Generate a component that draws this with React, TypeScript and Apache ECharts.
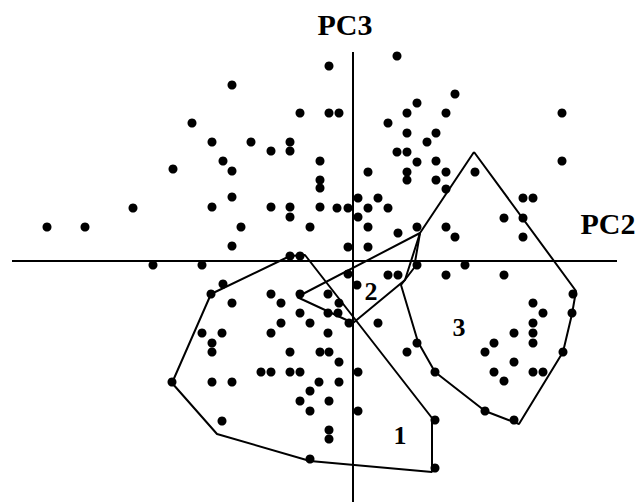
import React, { useEffect, useRef } from "react";
import * as echarts from "echarts";

// PC2 (x) and PC3 (y) scores, in chart units
const pc2Scores: number[] = [
  44, -24, -121, 102, 64, -53, -24, -14, 54, 93, 209, -161, 35, 54, 83, -141, -102, -63, 74, -63,
  -82, 44, 54, -180, -130, -33, 64, 83, 209, -121, 15, 54, 93, 122, -33, 54, 83, -33, 93, -121,
  5, 25, 170, 180, -220, -141, -82, -63, -33, -16, -5, 15, 35, -63, 5, 151, 170, -306, -268, -112,
  -43, 15, 64, 93, 45, 102, 170, -121, -5, 15, -63, -53, -200, -151, -5, 4, 35, 45, 64, 93,
  112, 151, -130, -142, -82, -53, -25, 220, -121, -72, -14, 180, -53, -25, -15, 190, 219, -72, -43, -4,
  25, 180, -151, -131, -82, -25, 161, 180, -141, 64, 141, 180, -63, -33, -24, -141, 54, 132, 210, -14,
  161, -92, -82, -63, -53, 5, 82, 141, 180, 190, -181, -141, -121, -34, -14, 151, -43, -53, -24, -43,
  5, 132, -131, 82, 161, -24, -24, -43, 82,
];
const pc3Scores: number[] = [
  205, 195, 176, 167, 158, 148, 148, 148, 148, 148, 148, 138, 138, 128, 128, 119, 119, 119, 119, 110,
  110, 109, 109, 92, 100, 100, 99, 100, 100, 90, 89, 89, 89, 89, 81, 81, 81, 73, 72, 64,
  63, 63, 63, 63, 53, 54, 54, 54, 54, 53, 53, 53, 53, 44, 44, 43, 43, 34, 34, 34,
  34, 34, 34, 34, 28, 24, 24, 15, 14, 14, 5, 5, -4, -4, -13, -24, -14, -14, -4, -14,
  -4, -14, -23, -33, -33, -33, -33, -33, -42, -42, -42, -42, -52, -52, -52, -52, -52, -62, -62, -62,
  -62, -62, -72, -72, -72, -72, -72, -72, -82, -82, -82, -82, -91, -91, -91, -91, -91, -91, -91, -101,
  -101, -111, -111, -111, -111, -111, -111, -111, -111, -111, -121, -121, -121, -121, -121, -120, -130, -140, -140, -150,
  -150, -150, -160, -159, -159, -169, -178, -198, -207,
];

// cluster outlines (hull vertices), x then y
const hull1X = [-142, -63, -48, 79, 79, -43, -136, -181];
const hull1Y = [-33, 5, 6, -157, -211, -200, -173, -122];
const hull2X = [-56, 67, 52, 0];
const hull2Y = [-36, 28, -19, -62];
const hull3X = [121, 223, 219, 210, 166, 132, 82, 65, 48, 61, 67];
const hull3Y = [109, -30, -53, -91, -163, -150, -111, -81, -24, -7, 28];

// axis line extents
const pc2AxisRange = [-341, 264];
const pc3AxisRange = [209, -241];

const clusterLabels = ["1", "2", "3"];
const axisLabels = ["PC2", "PC3"];

function closed(xs: number[], ys: number[]): number[][] {
  const pts = xs.map((x, i) => [x, ys[i]]);
  pts.push([xs[0], ys[0]]);
  return pts;
}

export default function App() {
  const ref = useRef<HTMLDivElement>(null);
  useEffect(() => {
    document.body.style.margin = "0";
    if (!ref.current) return;
    const chart = echarts.init(ref.current, undefined, { renderer: "svg" });
    const lineStyle = { color: "#000", width: 2, opacity: 1 };
    const lineBase = {
      type: "line" as const,
      symbol: "none",
      lineStyle,
      silent: true,
      z: 2,
    };
    const txt = (text: string, x: number, y: number, size: number) => ({
      type: "text",
      x,
      y,
      style: {
        text,
        font: `bold ${size}px "Liberation Serif", "Times New Roman", serif`,
        fill: "#000",
        align: "center",
        verticalAlign: "middle",
        textAlign: "center",
        textVerticalAlign: "middle",
      },
    });
    chart.setOption({
      animation: false,
      backgroundColor: "#fff",
      grid: { left: 0, right: 0, top: 0, bottom: 0 },
      xAxis: { type: "value", min: -353, max: 289, show: false },
      yAxis: { type: "value", min: -242, max: 261, show: false },
      series: [
        { ...lineBase, data: [[pc2AxisRange[0], 0], [pc2AxisRange[1], 0]] },
        { ...lineBase, data: [[0, pc3AxisRange[0]], [0, pc3AxisRange[1]]] },
        { ...lineBase, data: closed(hull1X, hull1Y) },
        { ...lineBase, data: closed(hull2X, hull2Y) },
        { ...lineBase, data: closed(hull3X, hull3Y) },
        {
          type: "scatter",
          symbol: "circle",
          symbolSize: 9,
          itemStyle: { color: "#000", opacity: 1 },
          data: pc2Scores.map((x, i) => [x, pc3Scores[i]]),
          z: 3,
          silent: true,
        },
      ],
      graphic: [
        txt(axisLabels[1], 345, 24, 30),
        txt(axisLabels[0], 608, 223, 30),
        txt(clusterLabels[0], 400, 435, 26),
        txt(clusterLabels[1], 371, 291, 26),
        txt(clusterLabels[2], 459, 327, 26),
      ],
    });
    return () => chart.dispose();
  }, []);
  return <div ref={ref} style={{ width: 642, height: 503 }} />;
}
